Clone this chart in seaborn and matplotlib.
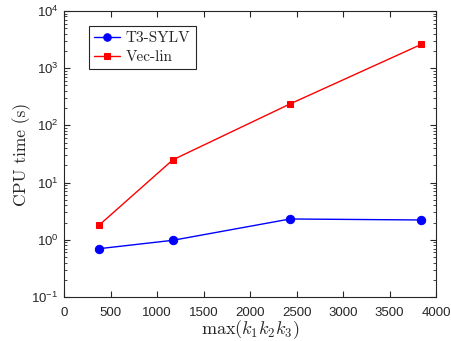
import matplotlib
matplotlib.use("Agg")
import matplotlib.pyplot as plt
import seaborn as sns
import numpy as np
import pandas as pd
from matplotlib.ticker import LogLocator, NullFormatter, MultipleLocator

sizes = [380, 1170, 2430, 3840]
t3_sylv = [0.70, 0.98, 2.31, 2.22]
vec_lin = [1.82, 25.0, 237.0, 2600.0]
x_ticks = [0, 500, 1000, 1500, 2000, 2500, 3000, 3500, 4000]

sns.set_style("ticks")
plt.rcParams['font.family'] = ['Liberation Sans', 'DejaVu Sans']
plt.rcParams['mathtext.fontset'] = 'cm'
plt.rcParams['axes.unicode_minus'] = False

fig = plt.figure(figsize=(4.51, 3.41), dpi=100)
ax = fig.add_axes([0.142, 0.129, 0.825, 0.839])

sns.lineplot(x=sizes, y=t3_sylv, ax=ax, color=(0, 0, 1), marker='o', markersize=6,
             markeredgecolor=(0, 0, 1), linewidth=1, label='T3-SYLV')
sns.lineplot(x=sizes, y=vec_lin, ax=ax, color=(1, 0, 0), marker='s', markersize=5,
             markeredgecolor=(1, 0, 0), linewidth=1, label='Vec-lin')

ax.set_yscale('log')
ax.set_ylim(0.1, 1e4)
ax.set_xlim(0, 4000)
ax.set_xticks(x_ticks)
ax.yaxis.set_major_locator(LogLocator(base=10, numticks=10))
ax.yaxis.set_minor_locator(LogLocator(base=10, subs=np.arange(2, 10), numticks=100))
ax.yaxis.set_minor_formatter(NullFormatter())

for s in ax.spines.values():
    s.set_visible(True)
    s.set_linewidth(0.8)
    s.set_color('#262626')
ax.tick_params(which='both', direction='in', top=True, right=True, labelsize=9.5,
               colors='#262626', labelcolor='#262626')
ax.tick_params(which='major', length=4)
ax.tick_params(which='minor', length=2)
ax.tick_params(axis='x', pad=7)
ax.tick_params(axis='y', pad=4)

ax.set_xlabel(r'$\max(k_1k_2k_3)$', fontsize=13, labelpad=0)
ax.set_ylabel('CPU time (s)', fontsize=12.5, family='cmr10', labelpad=0)

leg = ax.legend(loc='upper left', bbox_to_anchor=(0.067, 0.948), borderaxespad=0,
                prop={'family': 'cmr10', 'size': 11},
                frameon=True, fancybox=False, edgecolor='#262626', framealpha=1,
                handlelength=1.7, borderpad=0.35, labelspacing=0.35, handletextpad=0.35,
                markerscale=0.9)
leg.get_frame().set_linewidth(0.8)

fig.savefig('out.png', dpi=100)
